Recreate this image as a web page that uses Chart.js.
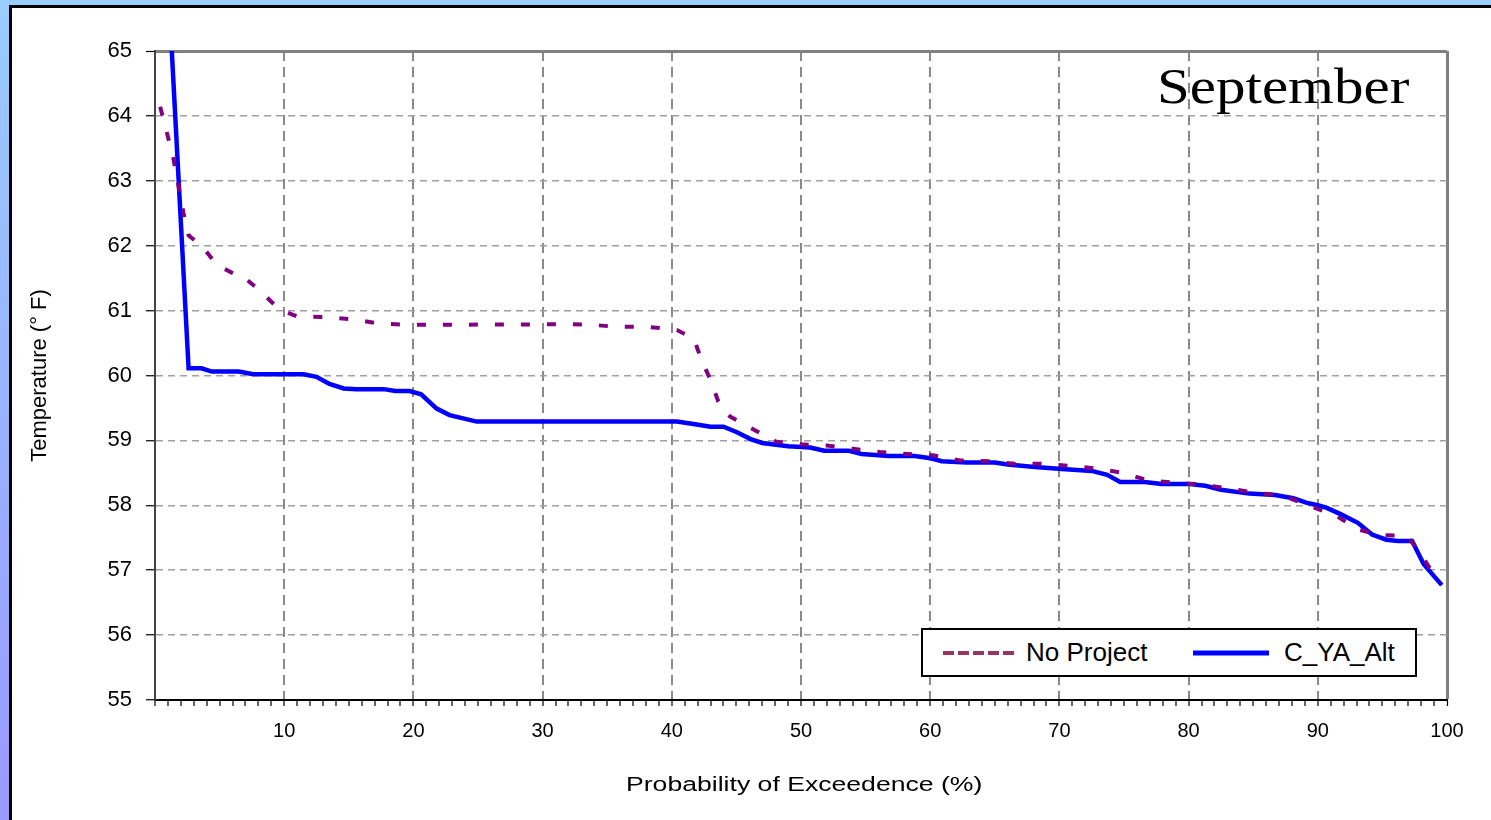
<!DOCTYPE html>
<html>
<head>
<meta charset="utf-8">
<script src="https://cdn.jsdelivr.net/npm/chart.js@4.4.1/dist/chart.umd.min.js"></script>
<style>
  html, body { margin: 0; padding: 0; background: #fff; }
  body { width: 1491px; height: 820px; position: relative; overflow: hidden; font-family: "Liberation Sans", Arial, sans-serif; }
  #topStrip { position: absolute; left: 0; top: 0; width: 1491px; height: 5px; background: #99ccff; }
  #leftStrip { position: absolute; left: 0; top: 0; width: 9px; height: 820px; background: linear-gradient(#99ccff, #9999ff); }
  #topLine { position: absolute; left: 9px; top: 5px; width: 1482px; height: 3px; background: #000; }
  #leftLine { position: absolute; left: 9px; top: 5px; width: 3px; height: 815px; background: #000; }
  #c { position: absolute; left: 0; top: 0; }
  #month { position: absolute; left: 1157px; top: 61px; font-family: "Liberation Serif", "Times New Roman", serif; font-size: 50px; line-height: 1; color: #000; transform: scaleX(1.18); transform-origin: left top; white-space: nowrap; }
  #xTitle { position: absolute; left: 626px; top: 772px; font-size: 20px; line-height: 24px; color: #000; transform: scaleX(1.33); transform-origin: left top; white-space: nowrap; }
  #legend { position: absolute; left: 921px; top: 628px; width: 492px; height: 45px; border: 2px solid #000; background: #fff; }
  .item { position: absolute; top: 0; height: 45px; display: flex; align-items: center; font-size: 26px; color: #000; white-space: nowrap; }
  .item svg { margin-right: 9px; }
</style>
</head>
<body>
<div id="topStrip"></div>
<div id="leftStrip"></div>
<div id="topLine"></div>
<div id="leftLine"></div>
<canvas id="c" width="1491" height="820"></canvas>
<div id="month">September</div>
<div id="xTitle"></div>
<div id="legend">
  <div class="item" style="left:20px;">
    <svg width="74" height="8"><line x1="0" y1="4" x2="74" y2="4" stroke="#993366" stroke-width="4" stroke-dasharray="11,4"/></svg>No Project
  </div>
  <div class="item" style="left:270px;">
    <svg width="76" height="8"><line x1="0" y1="4" x2="76" y2="4" stroke="#0000ff" stroke-width="5"/></svg><span style="margin-left:6px">C_YA_Alt</span>
  </div>
</div>
<script>
// Probability of exceedence (%) and temperature (°F) for each series
const noProjectX = [0.4, 1.4, 2.2, 2.6, 3.7, 4.8, 6.3, 6.7, 8.0, 9.4, 10.1, 11.0, 13.0, 15.1, 17.4, 19.5, 31.9, 33.9, 35.7, 38.1, 39.7, 40.4, 41.7, 42.3, 43.0, 43.6, 44.5, 46.4, 48.1, 50.0, 52.0, 54.0, 56.1, 58.2, 60.2, 62.3, 64.5, 66.5, 68.6, 70.6, 72.7, 74.9, 76.9, 79.0, 81.0, 83.1, 85.2, 87.3, 89.5, 91.4, 93.1, 94.8, 96.9, 97.9, 98.9, 99.5];
const noProjectY = [64.14, 63.37, 62.51, 62.16, 61.98, 61.70, 61.55, 61.54, 61.33, 61.06, 60.98, 60.91, 60.90, 60.87, 60.80, 60.78, 60.79, 60.78, 60.75, 60.75, 60.72, 60.70, 60.57, 60.24, 59.93, 59.60, 59.37, 59.16, 58.98, 58.94, 58.92, 58.87, 58.82, 58.79, 58.77, 58.69, 58.68, 58.64, 58.64, 58.61, 58.57, 58.50, 58.38, 58.35, 58.32, 58.26, 58.19, 58.15, 57.98, 57.84, 57.63, 57.54, 57.53, 57.27, 56.96, 56.84];
const altX = [1.3, 2.6, 3.6, 4.4, 6.5, 7.6, 11.5, 12.5, 13.5, 14.6, 15.6, 17.7, 18.6, 19.7, 20.6, 21.8, 22.8, 24.9, 40.4, 41.8, 43.0, 44.0, 45.0, 46.1, 47.0, 49.0, 50.7, 51.8, 53.7, 54.7, 56.8, 58.8, 59.9, 60.9, 62.8, 65.0, 66.0, 68.1, 70.2, 72.5, 73.7, 74.7, 76.6, 77.9, 79.9, 81.3, 82.5, 84.7, 86.7, 88.1, 89.1, 90.0, 90.7, 91.8, 93.1, 94.2, 95.3, 96.2, 97.3, 98.2, 99.6];
const altY = [65.0, 60.11, 60.11, 60.06, 60.06, 60.02, 60.02, 59.98, 59.87, 59.80, 59.79, 59.79, 59.76, 59.76, 59.71, 59.49, 59.39, 59.29, 59.29, 59.25, 59.21, 59.21, 59.13, 59.02, 58.96, 58.91, 58.89, 58.84, 58.84, 58.79, 58.76, 58.76, 58.73, 58.68, 58.66, 58.66, 58.63, 58.59, 58.56, 58.53, 58.47, 58.36, 58.36, 58.33, 58.33, 58.30, 58.24, 58.18, 58.16, 58.11, 58.04, 58.00, 57.96, 57.86, 57.73, 57.55, 57.47, 57.45, 57.45, 57.09, 56.77];
const seriesNames = ["No Project", "C_YA_Alt"];
const xMin = 0, xMax = 100, xLabelStep = 10;
const yMin = 55, yMax = 65, yStep = 1;
const xTitle = "Probability of Exceedence (%)";
const yTitle = "Temperature (° F)";

document.getElementById('xTitle').textContent = xTitle;

const toPts = (xs, ys) => xs.map((x, i) => ({ x: x, y: ys[i] }));

new Chart(document.getElementById('c'), {
  type: 'line',
  data: {
    datasets: [
      {
        label: seriesNames[0],
        data: toPts(noProjectX, noProjectY),
        borderColor: '#800080',
        borderWidth: 4,
        borderDash: [9, 17],
        pointRadius: 0,
        tension: 0,
        fill: false
      },
      {
        label: seriesNames[1],
        data: toPts(altX, altY),
        borderColor: '#0000ff',
        borderWidth: 4.5,
        pointRadius: 0,
        tension: 0,
        fill: false
      }
    ]
  },
  options: {
    responsive: false,
    animation: false,
    layout: { padding: { left: 0, top: 51, right: 44, bottom: 0 } },
    plugins: { legend: { display: false }, tooltip: { enabled: false } },
    scales: {
      x: {
        type: 'linear',
        min: xMin, max: xMax,
        afterFit: s => { s.height = 120; },
        ticks: {
          stepSize: 1,
          autoSkip: false,
          maxRotation: 0,
          padding: 13,
          color: '#000',
          font: { family: 'Liberation Sans', size: 20 },
          callback: v => (v % xLabelStep === 0 && v !== xMin) ? String(v) : ''
        },
        grid: {
          drawTicks: true,
          tickLength: 6,
          tickColor: '#000',
          tickWidth: 1.2,
          color: c => {
            const v = c.tick && c.tick.value;
            if (v === xMax) return '#808080';
            return (v % xLabelStep === 0 && v !== xMin) ? '#8a8a8a' : 'rgba(0,0,0,0)';
          },
          lineWidth: c => (c.tick && c.tick.value === xMax) ? 3 : 2
        },
        border: {
          display: true, color: '#000', width: 2,
          dash: c => (c.tick && c.tick.value === xMax) ? [] : [10, 6]
        },
        title: { display: false }
      },
      y: {
        type: 'linear',
        min: yMin, max: yMax,
        afterFit: s => { s.width = 155; },
        ticks: {
          stepSize: yStep,
          padding: 14,
          color: '#000',
          font: { family: 'Liberation Sans', size: 22 }
        },
        grid: {
          drawTicks: true,
          tickLength: 9,
          tickColor: '#000',
          tickWidth: 1.2,
          color: c => {
            const v = c.tick && c.tick.value;
            if (v === yMax) return '#808080';
            if (v === yMin) return 'rgba(0,0,0,0)';
            return '#a0a0a0';
          },
          lineWidth: c => (c.tick && c.tick.value === yMax) ? 3 : 1.5
        },
        border: {
          display: true, color: '#444', width: 2,
          dash: c => (c.tick && c.tick.value === yMax) ? [] : [7, 5]
        },
        title: {
          display: true, text: yTitle, color: '#000',
          font: { family: 'Liberation Sans', size: 22 },
          padding: { top: 27, bottom: 0 }
        }
      }
    }
  }
});
</script>
</body>
</html>
